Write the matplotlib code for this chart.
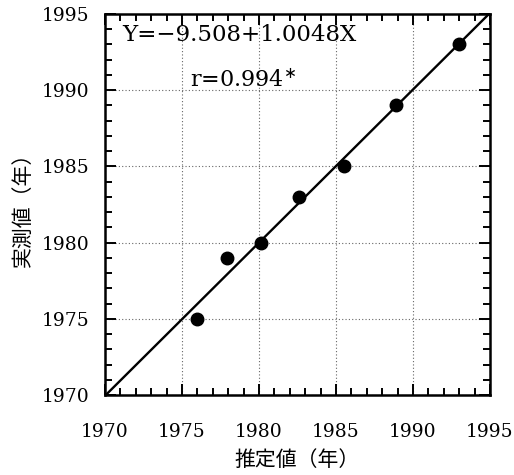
import matplotlib
matplotlib.use("Agg")
import matplotlib.pyplot as plt
from matplotlib.ticker import MultipleLocator

# estimated vs. measured year
est_year = [1976.0, 1977.9, 1980.1, 1982.6, 1985.5, 1988.9, 1993.0]
obs_year = [1975.0, 1979.0, 1980.0, 1983.0, 1985.0, 1989.0, 1993.0]

# regression line end points
fit_x = [1970, 1995]
fit_y = [1969.95, 1995.07]

ticks = [1970, 1975, 1980, 1985, 1990, 1995]
tick_labels = [str(t) for t in ticks]

fig = plt.figure(figsize=(5.14, 4.75), dpi=100)
ax = fig.add_axes([0.2043, 0.1684, 0.749, 0.8021])

ax.plot(fit_x, fit_y, color="black", lw=1.7, zorder=3)
ax.plot(est_year, obs_year, "o", color="black", ms=9, zorder=4)

ax.set_xlim(1970, 1995)
ax.set_ylim(1970, 1995)
ax.set_xticks(ticks)
ax.set_yticks(ticks)
ax.set_xticklabels(tick_labels, family="DejaVu Serif", fontsize=13.5)
ax.set_yticklabels(tick_labels, family="DejaVu Serif", fontsize=13.5)
ax.xaxis.set_minor_locator(MultipleLocator(1))
ax.yaxis.set_minor_locator(MultipleLocator(1))
ax.tick_params(which="both", direction="in", top=True, right=True, width=1.4)
ax.tick_params(which="major", length=8)
ax.tick_params(which="minor", length=5)
ax.tick_params(axis="x", which="major", pad=20)
ax.tick_params(axis="y", which="major", pad=11)
for s in ax.spines.values():
    s.set_linewidth(1.8)

ax.grid(True, which="major", linestyle=(0, (1, 2)), color="#666666", lw=0.8)

ax.text(0.045, 0.975, "Y=\u22129.508+1.0048X", transform=ax.transAxes,
        family="DejaVu Serif", fontsize=16.5, va="top", ha="left")
ax.text(0.22, 0.855, r"r=0.994$^{\ast}$", transform=ax.transAxes,
        family="DejaVu Serif", fontsize=16, va="top", ha="left")

cjk = ["Noto Sans CJK JP", "DejaVu Sans"]
ax.set_xlabel("推定値（年）", family=cjk, fontsize=15, labelpad=6)
ax.set_ylabel("実測値（年）", family=cjk, fontsize=15, labelpad=6)

fig.savefig("out.png", dpi=100)
